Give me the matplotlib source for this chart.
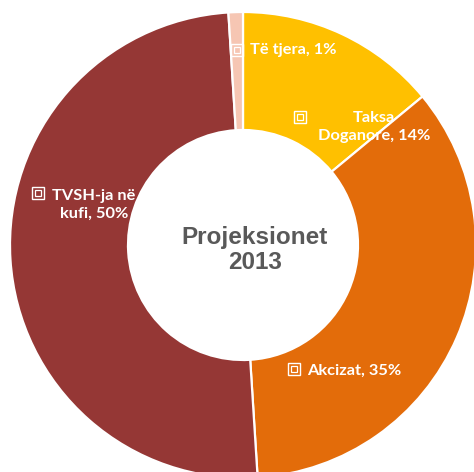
import matplotlib
matplotlib.use("Agg")
import matplotlib.pyplot as plt

categories = ["Taksa\nDoganore", "Akcizat", "TVSH-ja në\nkufi", "Të tjera"]
values = [14, 35, 50, 1]
colors = ["#FFC000", "#E36C0A", "#953735", "#F6C6B3"]

W, H = 474, 472
fig = plt.figure(figsize=(W / 100, H / 100), dpi=100)
ax = fig.add_axes([0, 0, 1, 1])

cx, cy, R = 243, H - 245, 233
ax.pie(values, colors=colors, startangle=90, counterclock=False,
       center=(cx, cy), radius=R,
       wedgeprops=dict(width=R - 115, edgecolor="white", linewidth=1.6))
ax.set_aspect("auto")
ax.set_xlim(0, W)
ax.set_ylim(0, H)
ax.axis("off")

ax.text(255, H - 250, "Projeksionet\n2013", ha="center", va="center",
        fontsize=17.5, fontweight="bold", color="#595959",
        family="Liberation Sans", linespacing=1.1)

# label positions (pixels): marker x, marker y, text x, text y, alignment
lab_fmt = [f"{c}, {v}%" for c, v in zip(categories, values)]
label_pos = [
    (300, 117, 374, 127, "center"),
    (294, 369, 307, 371, "left"),
    (38, 193, 94, 205, "center"),
    (237, 50, 250, 50, "left"),
]
for txt, (mx, my, tx, ty, ha) in zip(lab_fmt, label_pos):
    ax.text(tx, H - ty, txt, ha=ha, va="center", fontsize=11.8,
            fontweight="bold", color="white", family="Lato", linespacing=1.4)
    ax.plot([mx], [H - my], marker="s", markersize=8, mfc="none",
            mec="white", mew=1.0)
    ax.plot([mx], [H - my], marker="s", markersize=4.5, mfc="none",
            mec="white", mew=0.9)

fig.savefig("out.png", dpi=100)
